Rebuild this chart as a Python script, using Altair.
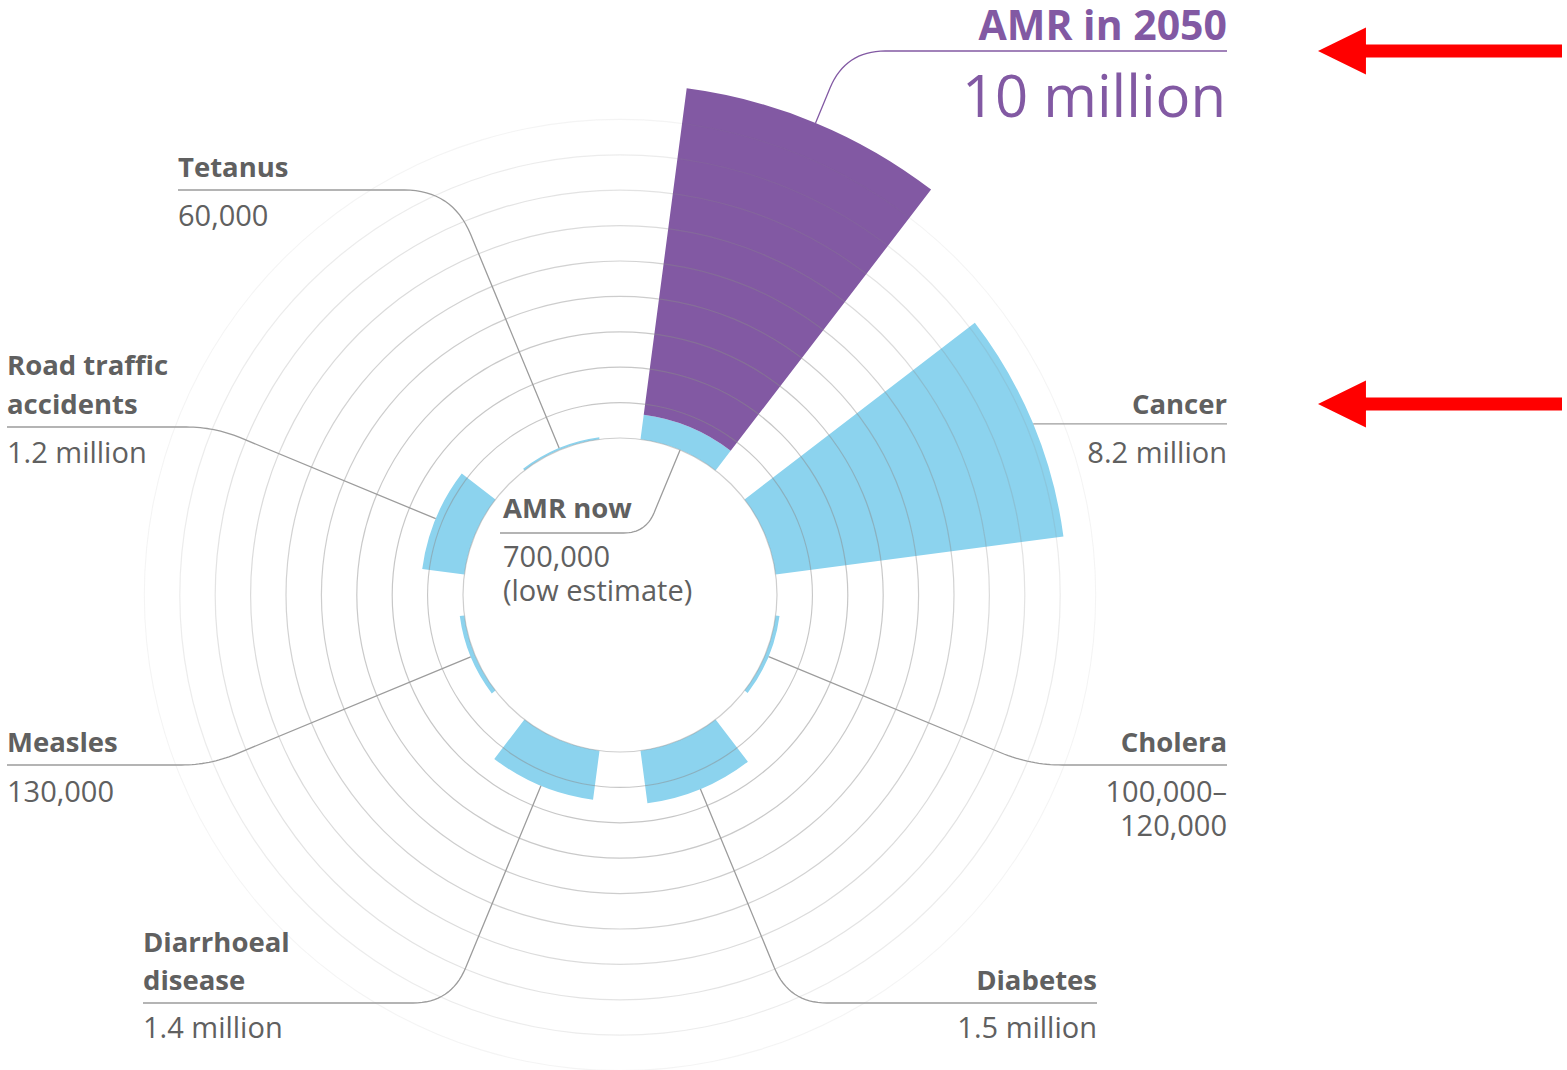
import math
import altair as alt
import pandas as pd

# ---------------- data ----------------
categories = ["AMR now", "Cancer", "Cholera", "Diabetes", "Diarrhoeal disease",
              "Measles", "Road traffic accidents", "Tetanus"]
deaths_millions = [0.7, 8.2, 0.11, 1.5, 1.4, 0.13, 1.2, 0.06]
amr_2050_millions = 10.0
label_lines = [["AMR now"], ["Cancer"], ["Cholera"], ["Diabetes"], ["Diarrhoeal", "disease"],
               ["Measles"], ["Road traffic", "accidents"], ["Tetanus"]]
value_lines = [["700,000", "(low estimate)"], ["8.2 million"], ["100,000–", "120,000"],
               ["1.5 million"], ["1.4 million"], ["130,000"], ["1.2 million"], ["60,000"]]
amr_2050_title = "AMR in 2050"
amr_2050_value = "10 million"
grid_values = [0, 1, 2, 3, 4, 5, 6, 7, 8, 9]

# ---------------- layout / style ----------------
W, H = 1567, 1070
CX, CY = 620, 595
R_IN, R_OUT = 157, 511          # pixel radius of 0 and of 10 million
SECTOR, BAR = 45, 30
BLUE = "#8cd3ee"
PURPLE = "#8259a3"
TEXT = "#606060"
LEAD = "#9c9c9c"
FONT = "Open Sans"
RING_HALF = 0.6 / ((R_OUT - R_IN) / 10.0)   # half of a 1.2 px ring, in data units


def rpx(v):
    return R_IN + (R_OUT - R_IN) * v / 10.0


# label layout: underline y, outer x end, align, bold baselines, value baselines
layout = {
    "AMR now": dict(ly=533, xe=500, align="left", tx=503, by=[518], vy=[567, 601], inward=True, rc=22),
    "Cancer": dict(ly=None, xe=1227, align="right", tx=1227, by=[414], vy=[463], rc=30),
    "Cholera": dict(ly=765, xe=1227, align="right", tx=1227, by=[752], vy=[802, 836], rc=32),
    "Diabetes": dict(ly=1003, xe=1097, align="right", tx=1097, by=[990], vy=[1038], rc=38),
    "Diarrhoeal disease": dict(ly=1003, xe=143, align="left", tx=143, by=[952, 990], vy=[1038], rc=38),
    "Measles": dict(ly=765, xe=7, align="left", tx=7, by=[752], vy=[802], rc=28),
    "Road traffic accidents": dict(ly=427, xe=7, align="left", tx=7, by=[375, 414], vy=[463], rc=28),
    "Tetanus": dict(ly=190, xe=178, align="left", tx=178, by=[177], vy=[226], rc=48),
}

# ---------------- bars ----------------
bar_rows = []
for i, (cat, v) in enumerate(zip(categories, deaths_millions)):
    mid = SECTOR / 2 + SECTOR * i
    bar_rows.append(dict(cat=cat, t0=mid - BAR / 2, t1=mid + BAR / 2, r0=0.0, r1=v, col=BLUE))
amr_mid = SECTOR / 2
bar_rows.append(dict(cat="AMR in 2050", t0=amr_mid - BAR / 2, t1=amr_mid + BAR / 2,
                     r0=deaths_millions[0], r1=amr_2050_millions, col=PURPLE))
bars_df = pd.DataFrame(bar_rows)

theta_scale = alt.Scale(domain=[0, 360], range=[0, 2 * math.pi])
radius_scale = alt.Scale(type="linear", domain=[0, 10], range=[R_IN, R_OUT])

bars = alt.Chart(bars_df).mark_arc(strokeWidth=0).encode(
    x=alt.value(CX), y=alt.value(CY),
    theta=alt.Theta("t0:Q", scale=theta_scale, stack=None),
    theta2="t1:Q",
    radius=alt.Radius("r1:Q", scale=radius_scale),
    radius2="r0:Q",
    color=alt.Color("col:N", scale=None),
)

# ---------------- grid rings (one per million), drawn over the bars ----------------
grid_opacity = [0.42, 0.48, 0.48, 0.46, 0.43, 0.38, 0.31, 0.24, 0.16, 0.09]
grid_df = pd.DataFrame(dict(v=grid_values, op=grid_opacity))
grid_df["ro"] = grid_df["v"] + RING_HALF
grid_df["ri"] = grid_df["v"] - RING_HALF
grid_df["t0"] = 0
grid_df["t1"] = 360
grid = alt.Chart(grid_df).mark_arc(color="#8a8a8a", strokeWidth=0).encode(
    x=alt.value(CX), y=alt.value(CY),
    theta=alt.Theta("t0:Q", scale=theta_scale, stack=None),
    theta2="t1:Q",
    radius=alt.Radius("ro:Q", scale=radius_scale),
    radius2="ri:Q",
    fillOpacity=alt.FillOpacity("op:Q", scale=None),
)


# ---------------- leader lines ----------------
def rounded(p0, p1, p2, rc, n=16):
    def towards(a, b, d):
        L = math.hypot(b[0] - a[0], b[1] - a[1])
        if L == 0:
            return a
        d = min(d, L * 0.9)
        return (a[0] + (b[0] - a[0]) * d / L, a[1] + (b[1] - a[1]) * d / L)
    A = towards(p1, p0, rc)
    B = towards(p1, p2, rc)
    pts = [p0, A]
    for k in range(1, n):
        t = k / n
        x = (1 - t) ** 2 * A[0] + 2 * (1 - t) * t * p1[0] + t ** 2 * B[0]
        y = (1 - t) ** 2 * A[1] + 2 * (1 - t) * t * p1[1] + t ** 2 * B[1]
        pts.append((x, y))
    pts += [B, p2]
    return pts


def leader(mid_deg, r, inward, ly, xe, rc=30):
    a = math.radians(mid_deg)
    ux, uy = math.sin(a), -math.cos(a)
    p0 = (CX + r * ux, CY + r * uy)
    if ly is None:
        return [p0, (xe, p0[1])]
    dx, dy = (-ux, -uy) if inward else (ux, uy)
    t = (ly - p0[1]) / dy
    p1 = (p0[0] + t * dx, ly)
    return rounded(p0, p1, (xe, ly), rc)


line_rows = []
for i, cat in enumerate(categories):
    L = layout[cat]
    mid = SECTOR / 2 + SECTOR * i
    inward = L.get("inward", False)
    r = R_IN if inward else rpx(deaths_millions[i])
    pts = leader(mid, r, inward, L["ly"], L["xe"], rc=L["rc"])
    for k, (x, y) in enumerate(pts):
        line_rows.append(dict(id=cat, k=k, x=x, y=y, col=LEAD))
pts = leader(amr_mid, rpx(amr_2050_millions), False, 51, 1227, rc=40)
for k, (x, y) in enumerate(pts):
    line_rows.append(dict(id="AMR in 2050", k=k, x=x, y=y, col=PURPLE))
lines_df = pd.DataFrame(line_rows)

leaders = alt.Chart(lines_df).mark_line(strokeWidth=1.3).encode(
    x=alt.X("x:Q", scale=None), y=alt.Y("y:Q", scale=None),
    detail="id:N", order="k:Q",
    color=alt.Color("col:N", scale=None),
)

# ---------------- texts ----------------
text_rows = []
for i, cat in enumerate(categories):
    L = layout[cat]
    for s, y in zip(label_lines[i], L["by"]):
        text_rows.append(dict(t=s, x=L["tx"], y=y, al=L["align"], bold=1, fs=27.5, col=TEXT))
    for s, y in zip(value_lines[i], L["vy"]):
        text_rows.append(dict(t=s, x=L["tx"], y=y, al=L["align"], bold=0, fs=29, col=TEXT))
text_rows.append(dict(t=amr_2050_title, x=1227, y=40, al="right", bold=1, fs=41, col=PURPLE))
text_rows.append(dict(t=amr_2050_value, x=1226, y=117, al="right", bold=0, fs=58, col=PURPLE))
text_df = pd.DataFrame(text_rows)

text_layers = []
for align in ["left", "right"]:
    for bold in [1, 0]:
        sub = text_df[(text_df["al"] == align) & (text_df["bold"] == bold)]
        if len(sub) == 0:
            continue
        text_layers.append(
            alt.Chart(sub.reset_index(drop=True)).mark_text(
                align=align, baseline="alphabetic", font=FONT,
                fontWeight="bold" if bold else "normal").encode(
                x=alt.X("x:Q", scale=None), y=alt.Y("y:Q", scale=None),
                text="t:N",
                size=alt.Size("fs:Q", scale=None),
                color=alt.Color("col:N", scale=None),
            )
        )

# ---------------- red arrows (annotation) ----------------
arrow_df = pd.DataFrame(dict(x=[1440, 1440], y=[51, 404]))
ARROW = ("M -1 0 L -0.607 -0.193 L -0.607 -0.053 L 1 -0.053 L 1 0.053 "
         "L -0.607 0.053 L -0.607 0.193 Z")
arrows = alt.Chart(arrow_df).mark_point(shape=ARROW, filled=True, fill="#ff0000",
                                        strokeWidth=0, opacity=1, size=244 ** 2).encode(
    x=alt.X("x:Q", scale=None), y=alt.Y("y:Q", scale=None),
)

chart = alt.layer(bars, grid, leaders, *text_layers, arrows).properties(
    width=W, height=H, autosize=alt.AutoSizeParams(type="none"), padding=0,
    background="white",
).configure_view(stroke=None)

chart.save("out.html", embed_options={"renderer": "svg", "actions": False})
